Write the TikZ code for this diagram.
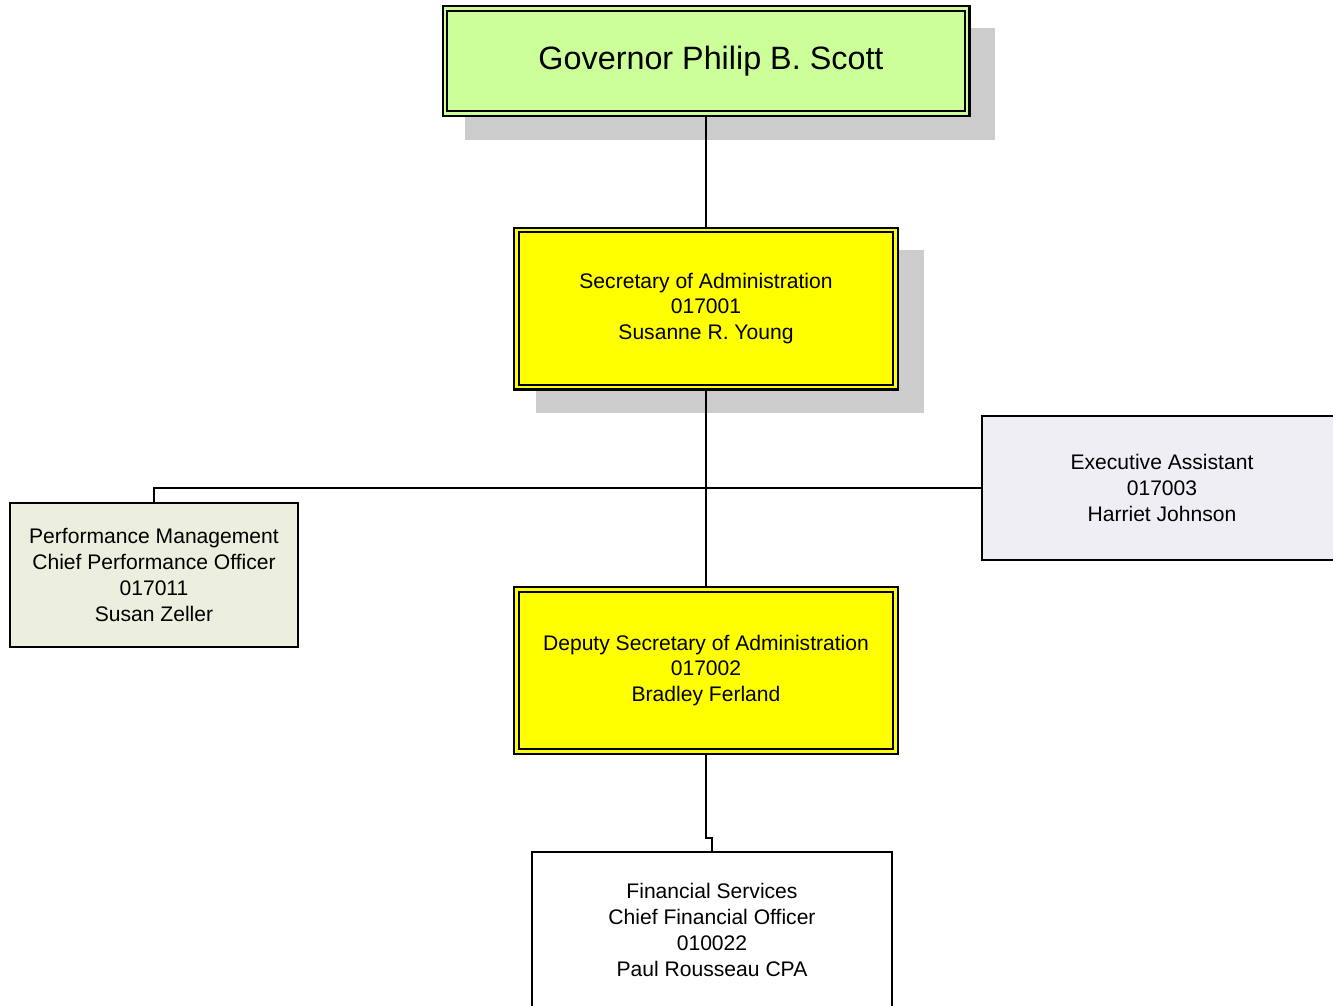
\documentclass[tikz,border=0pt]{standalone}
\usepackage{fontspec}
\setmainfont{Liberation Sans}
\usetikzlibrary{backgrounds}

\definecolor{govgreen}{HTML}{CCFF99}
\definecolor{secyellow}{HTML}{FFFF00}
\definecolor{assistgray}{HTML}{EFEEF4}
\definecolor{perfbeige}{HTML}{ECEEDE}
\definecolor{shadowgray}{HTML}{CCCCCC}

\tikzset{
    unitbox/.style={draw, line width=0.9pt, rectangle, align=center,
        inner sep=0pt, font=\fontsize{12}{14.7}\selectfont},
    headbox/.style={unitbox, line width=1.15pt, double distance=1.4pt},
    link/.style={line width=0.85pt}
}

\begin{document}
\begin{tikzpicture}
    \useasboundingbox (0,0) rectangle (26.66,-20.12);

    % Governor
    \node[headbox, fill=govgreen, double=govgreen,
          minimum width=10.45cm, minimum height=2.1cm,
          font=\fontsize{18.4}{22}\selectfont] (gov) at (14.12,-1.22)
          {\hspace*{0.2cm}Governor Philip B. Scott};

    % Secretary and deputy
    \node[headbox, fill=secyellow, double=secyellow,
          minimum width=7.58cm, minimum height=3.15cm] (sec) at (14.12,-6.17)
          {Secretary of Administration\\017001\\Susanne R. Young};
    \node[headbox, fill=secyellow, double=secyellow,
          minimum width=7.58cm, minimum height=3.24cm] (dep) at (14.12,-13.41)
          {Deputy Secretary of Administration\\017002\\Bradley Ferland};

    % Staff units
    \node[unitbox, fill=assistgray, minimum width=7.2cm, minimum height=2.88cm]
          (assist) at (23.24,-9.76) {Executive Assistant\\017003\\Harriet Johnson};
    \node[unitbox, fill=perfbeige, minimum width=5.76cm, minimum height=2.88cm]
          (perf) at (3.08,-11.5)
          {Performance Management\\Chief Performance Officer\\017011\\Susan Zeller};

    % Financial services
    \node[unitbox, fill=white, minimum width=7.2cm, minimum height=3.12cm]
          (fin) at (14.24,-18.6)
          {Financial Services\\Chief Financial Officer\\010022\\Paul Rousseau CPA};

    % Shadows behind the two top boxes
    \begin{pgfonlayer}{background}
        \foreach \boxname in {gov,sec} {
            \fill[shadowgray] ([shift={(0.42cm,-0.42cm)}]\boxname.north west)
                rectangle ([shift={(0.54cm,-0.5cm)}]\boxname.south east);
        }
    \end{pgfonlayer}

    % Reporting lines
    \draw[link] (gov.south) -- (sec.north);
    \draw[link] (sec.south) -- (dep.north);
    \draw[link] (perf.north) |- (assist.west);
    \coordinate (finjog) at ([yshift=0.26cm]fin.north);
    \draw[link] (dep.south) |- (finjog) -- (fin.north);
\end{tikzpicture}
\end{document}
